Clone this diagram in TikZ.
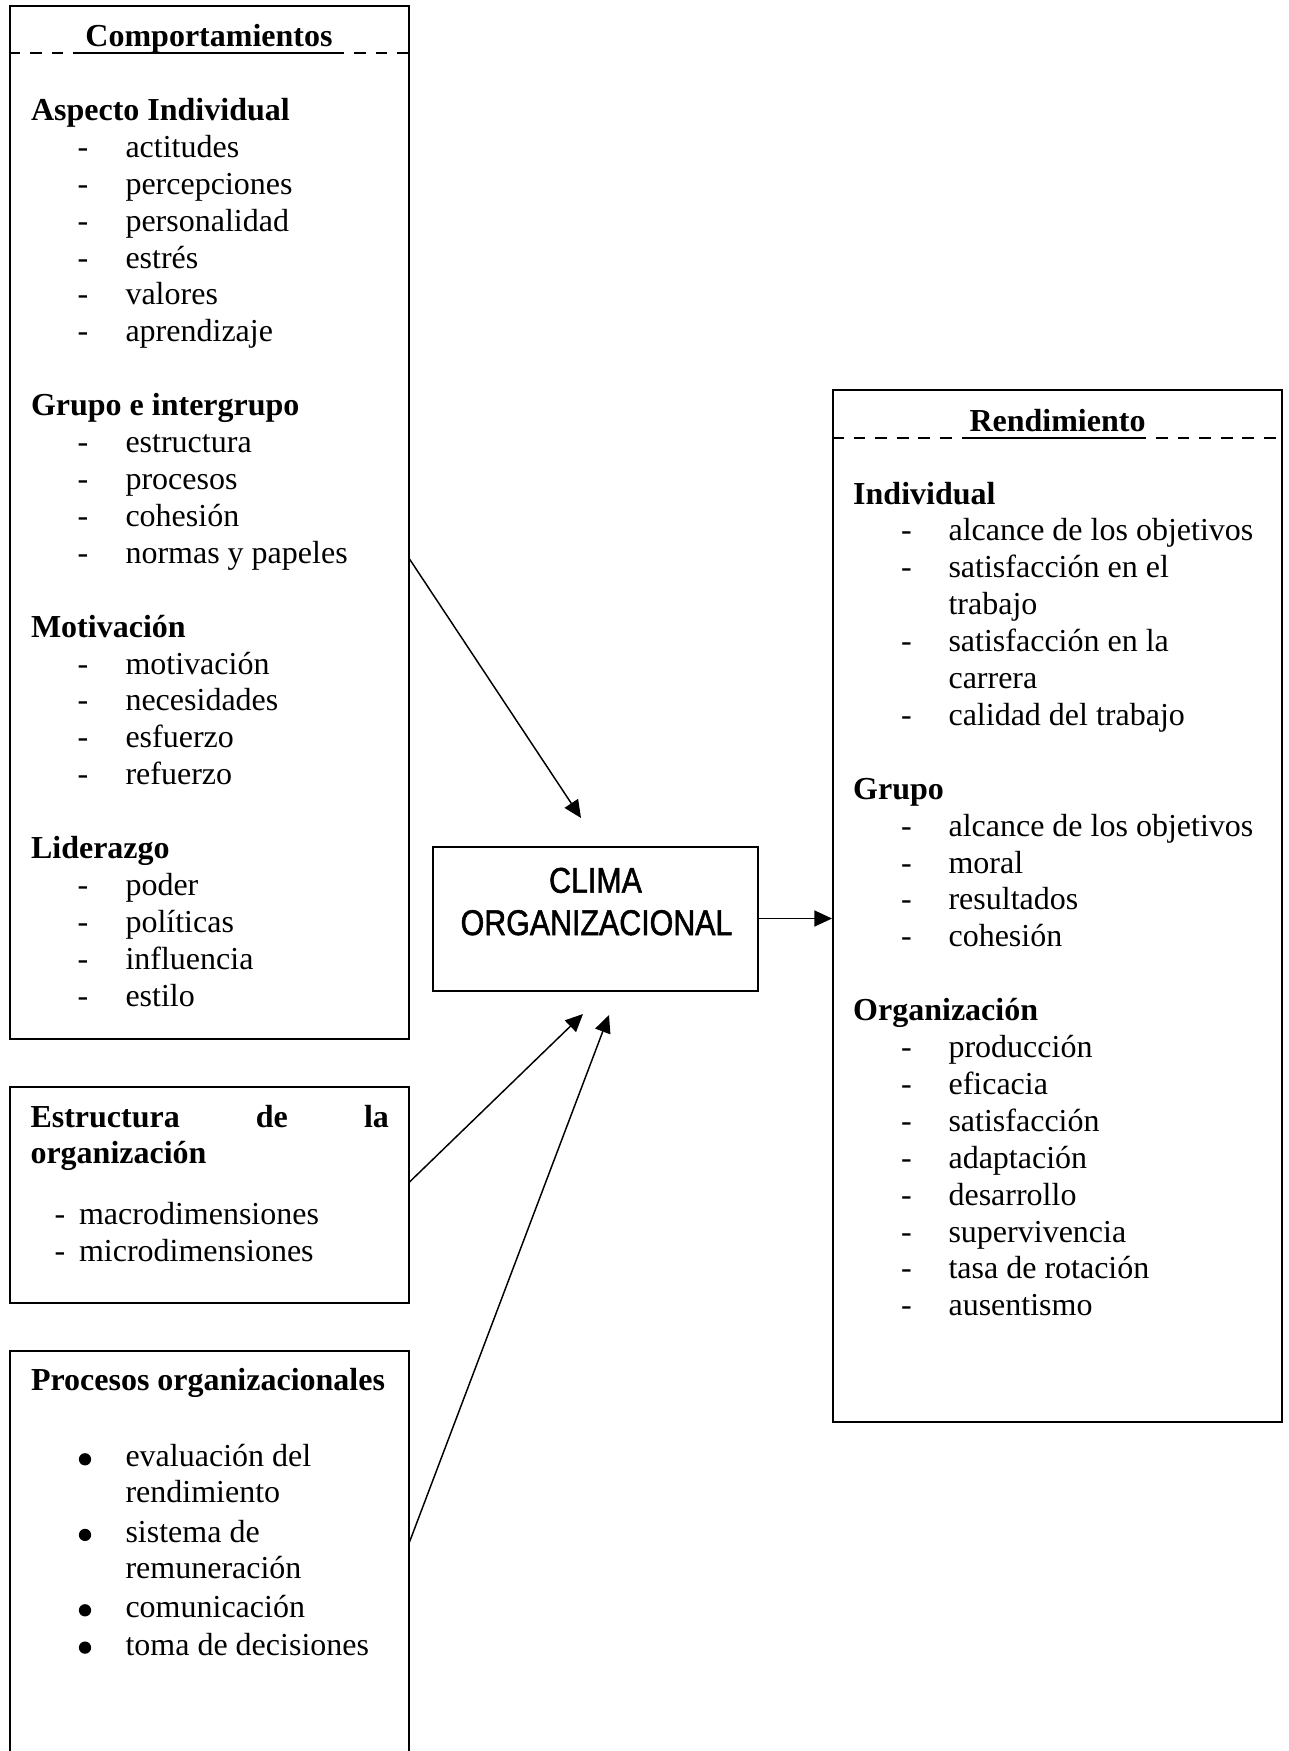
\documentclass[tikz,border=0pt]{standalone}
\usepackage{fontspec}
\setmainfont{Liberation Serif}
\newfontfamily\climafont[FakeStretch=0.85,FakeBold=1.4]{Liberation Sans}
\usetikzlibrary{arrows.meta,fit}
\begin{document}
\begin{tikzpicture}[x=0.375pt,y=-0.375pt,
  box/.style={draw, line width=0.75pt, inner sep=0pt},
  txt/.style={inner sep=0pt, anchor=base west, font=\fontsize{12}{13.8}\selectfont},
  hdr/.style={inner sep=0pt, anchor=base west, font=\fontsize{12}{13.8}\selectfont\bfseries},
  ttl/.style={inner sep=0pt, anchor=base, font=\fontsize{12}{13.8}\selectfont\bfseries},
  clima/.style={inner sep=0pt, anchor=base, font=\climafont\fontsize{13.4}{16}\selectfont},
  sepline/.style={line width=0.75pt, dash pattern=on 4.4pt off 3.7pt},
  uline/.style={line width=0.75pt},
  arr/.style={line width=0.55pt, -{Triangle[length=6.6pt,width=6pt]}},
  dot/.style={circle, fill, inner sep=0pt, minimum size=4.6pt}
]
\useasboundingbox (0,0) rectangle (1288,1751);
\fill[white] (0,0) rectangle (1288,1751);

% ---------- boxes ----------
\node[box, fit={(9.5,6.5) (408.5,1039)}] (A) {};
\node[box, fit={(9.5,1087) (408.5,1302.5)}] (B) {};
\node[box, fit={(9.5,1350.5) (408.5,1765)}] (C) {};
\node[box, fit={(433,846.5) (757.5,990.5)}] (CL) {};
\node[box, fit={(833,390) (1282,1422)}] (R) {};

% ---------- box A: Comportamientos ----------
\node[ttl] (At) at (209,46.7) {Comportamientos};
\coordinate (Asep) at (0,52.7);
\draw[sepline] (A.west |- Asep) -- (A.east |- Asep);
\draw[uline] (At.west |- Asep) -- (At.east |- Asep);

\foreach \k/\t in {2/Aspecto Individual,10/Grupo e intergrupo,16/Motivación,22/Liderazgo}{
  \pgfmathsetmacro\yy{46.7+36.9*\k}
  \node[hdr] (Ah\k) at (30.5,\yy) {\t};
}
\foreach \k/\t in {3/actitudes,4/percepciones,5/personalidad,6/estrés,7/valores,8/aprendizaje,
  11/estructura,12/procesos,13/cohesión,14/normas y papeles,
  17/motivación,18/necesidades,19/esfuerzo,20/refuerzo,
  23/poder,24/políticas,25/influencia,26/estilo}{
  \pgfmathsetmacro\yy{46.7+36.9*\k}
  \node[txt] (Ad\k) at (77,\yy) {-};
  \node[txt] (Ai\k) at (125,\yy) {\t};
}

% ---------- box B: Estructura ----------
\node[hdr] (Bh1) at (30,1127) {\makebox[134.4pt][s]{Estructura de la}};
\node[hdr] (Bh2) at (30,1163.5) {organización};
\node[txt] (Bd1) at (54,1224.5) {-};
\node[txt] (Bi1) at (78.5,1224.5) {macrodimensiones};
\node[txt] (Bd2) at (54,1261.5) {-};
\node[txt] (Bi2) at (78.5,1261.5) {microdimensiones};

% ---------- box C: Procesos ----------
\node[hdr] (Ch) at (30.5,1390.7) {Procesos organizacionales};
\node[txt] (Ci1) at (125,1466.7) {evaluación del};
\node[txt] (Ci2) at (125,1502.3) {rendimiento};
\node[txt] (Ci3) at (125,1542.3) {sistema de};
\node[txt] (Ci4) at (125,1578.3) {remuneración};
\node[txt] (Ci5) at (125,1617.7) {comunicación};
\node[txt] (Ci6) at (125,1655) {toma de decisiones};
\node[dot] (Cb1) at (85,1459.3) {};
\node[dot] (Cb3) at (85,1534.9) {};
\node[dot] (Cb5) at (85,1610.3) {};
\node[dot] (Cb6) at (85,1647.6) {};

% ---------- centre box ----------
\node[clima] (CL1) at (595.5,892.7) {CLIMA};
\node[clima] (CL2) at (596.5,935) {ORGANIZACIONAL};

% ---------- box R: Rendimiento ----------
\node[ttl] (Rt) at (1057.5,431.7) {Rendimiento};
\coordinate (Rsep) at (0,438.3);
\draw[sepline] (R.west |- Rsep) -- (R.east |- Rsep);
\draw[uline] (Rt.west |- Rsep) -- (Rt.east |- Rsep);

\foreach \n/\t in {0/Individual,8/Grupo,14/Organización}{
  \pgfmathsetmacro\yy{504+36.9*\n}
  \node[hdr] (Rh\n) at (852.7,\yy) {\t};
}
\foreach \n/\t in {1/alcance de los objetivos,2/satisfacción en el,4/satisfacción en la,6/calidad del trabajo,
  9/alcance de los objetivos,10/moral,11/resultados,12/cohesión,
  15/producción,16/eficacia,17/satisfacción,18/adaptación,19/desarrollo,20/supervivencia,21/tasa de rotación,22/ausentismo}{
  \pgfmathsetmacro\yy{504+36.9*\n}
  \node[txt] (Rd\n) at (900.5,\yy) {-};
  \node[txt] (Ri\n) at (948,\yy) {\t};
}
\foreach \n/\t in {3/trabajo,5/carrera}{
  \pgfmathsetmacro\yy{504+36.9*\n}
  \node[txt] (Ri\n) at (948,\yy) {\t};
}

% ---------- connectors ----------
\coordinate (s1) at (0,559);
\coordinate (t1) at (581,818);
\coordinate (s2) at (0,1182);
\coordinate (t2) at (583,1014);
\coordinate (s3) at (0,1542);
\coordinate (t3) at (609,1015);
\draw[arr] (A.east |- s1) -- (t1);
\draw[arr] (B.east |- s2) -- (t2);
\draw[arr] (C.east |- s3) -- (t3);
\draw[arr] (CL.east) -- (R.west |- CL.east);
\end{tikzpicture}
\end{document}
